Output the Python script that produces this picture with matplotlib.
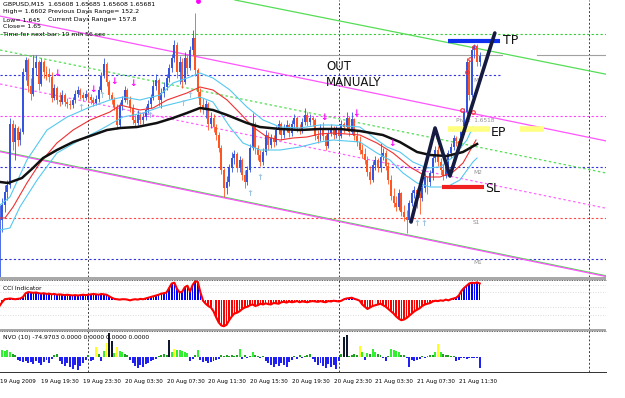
import numpy as np
import matplotlib
matplotlib.use("Agg")
import matplotlib.pyplot as plt
from matplotlib.transforms import blended_transform_factory
from matplotlib.patches import Rectangle

# ---------------- DATA (GBPUSD M15, price levels in chart units) ----------------
first_open = 18
close = [60, 75, 88, 95, 156, 138, 152, 140, 148, 208,
         220, 194, 186, 212, 218, 196, 218, 208, 206, 203,
         182, 192, 180, 178, 185, 178, 176, 175, 180, 186,
         190, 185, 182, 186, 183, 180, 177, 181, 190, 204,
         216, 198, 185, 180, 173, 155, 174, 180, 190, 180,
         172, 160, 157, 165, 160, 163, 170, 176, 182, 194,
         200, 180, 187, 193, 202, 212, 222, 235, 208, 218,
         198, 222, 212, 230, 242, 210, 188, 175, 172, 176,
         156, 162, 153, 145, 132, 110, 92, 98, 112, 122,
         126, 112, 120, 105, 98, 110, 132, 155, 132, 125,
         118, 128, 145, 135, 142, 138, 150, 156, 145, 152,
         155, 147, 156, 162, 152, 150, 158, 165, 158, 162,
         160, 144, 141, 152, 144, 134, 147, 152, 145, 150,
         144, 156, 153, 162, 148, 161, 144, 138, 130, 126,
         120, 108, 100, 115, 120, 112, 123, 127, 114, 100,
         84, 77, 73, 87, 68, 63, 60, 77, 87, 90,
         86, 82, 92, 103, 98, 107, 122, 130, 118, 110,
         104, 112, 127, 133, 142, 139, 134, 150, 168, 218,
         185, 230, 234, 218, 224]
high = [75, 82, 95, 100, 162, 160, 156, 154, 152, 212,
        223, 222, 202, 225, 225, 220, 222, 220, 214, 212,
        208, 196, 194, 188, 190, 187, 182, 180, 183, 190,
        194, 192, 188, 190, 188, 186, 183, 185, 194, 208,
        222, 218, 200, 188, 183, 176, 178, 184, 194, 192,
        184, 176, 165, 170, 168, 167, 174, 180, 186, 200,
        206, 202, 192, 198, 206, 216, 226, 240, 238, 224,
        222, 228, 226, 234, 250, 267, 212, 192, 182, 180,
        178, 168, 166, 156, 148, 135, 112, 104, 116, 128,
        130, 128, 124, 122, 110, 114, 136, 167, 158, 135,
        130, 132, 150, 148, 146, 145, 154, 160, 158, 156,
        160, 157, 160, 166, 164, 156, 162, 172, 168, 166,
        164, 162, 150, 156, 158, 146, 152, 156, 154, 154,
        152, 160, 158, 168, 164, 168, 162, 150, 144, 136,
        132, 124, 114, 119, 124, 122, 137, 132, 130, 118,
        105, 92, 84, 91, 88, 75, 70, 80, 90, 94,
        92, 88, 95, 107, 104, 110, 125, 134, 134, 122,
        116, 115, 130, 137, 145, 144, 142, 153, 172, 222,
        220, 234, 236, 236, 228]
low = [3, 48, 68, 80, 92, 130, 120, 134, 135, 146,
       200, 188, 180, 184, 205, 190, 194, 202, 200, 198,
       178, 180, 176, 174, 176, 174, 172, 171, 172, 177,
       183, 181, 179, 180, 178, 176, 174, 175, 178, 188,
       202, 194, 181, 176, 170, 151, 152, 170, 178, 176,
       168, 156, 153, 155, 156, 156, 160, 167, 172, 180,
       190, 174, 172, 183, 190, 198, 208, 218, 202, 196,
       192, 196, 206, 210, 225, 204, 182, 168, 166, 162,
       150, 152, 148, 140, 128, 106, 83, 86, 94, 108,
       116, 108, 108, 100, 92, 95, 108, 130, 126, 120,
       114, 115, 125, 130, 132, 133, 135, 146, 140, 142,
       148, 143, 144, 152, 148, 146, 147, 155, 154, 155,
       154, 140, 137, 139, 140, 130, 132, 144, 141, 142,
       140, 142, 147, 150, 144, 146, 140, 134, 126, 122,
       116, 104, 96, 98, 110, 108, 108, 120, 110, 96,
       80, 73, 69, 70, 64, 59, 47, 58, 74, 82,
       72, 66, 79, 88, 86, 94, 100, 118, 114, 106,
       100, 102, 110, 122, 130, 134, 130, 133, 146, 166,
       180, 183, 222, 214, 214]

# moving averages read at sample bars: (bar index, level)
ma_black = [(0.2, 98), (3.3, 97), (8.6, 102), (12.8, 112), (16.7, 122), (22, 130),
            (28.2, 138), (35.8, 145), (41.2, 150), (46.2, 152), (52.7, 153), (60.3, 157),
            (66.5, 162), (71.8, 167), (76.8, 172), (81.8, 170), (87.2, 165), (94.8, 157),
            (99.8, 153), (107.5, 151), (115.1, 150), (122.8, 151), (130.4, 151), (138.1, 149),
            (146.9, 145), (153.4, 138), (160, 128), (165, 125), (171.4, 124), (177.6, 128),
            (183, 136)]
ma_red = [(0.2, 62), (2.1, 62), (5.2, 73), (10.5, 97), (15.5, 117), (22, 137), (28.2, 150),
          (34.7, 160), (42.3, 168), (46.2, 175), (53.8, 170), (58.8, 172), (64.2, 180),
          (71.8, 187), (76.8, 193), (81.8, 190), (87.2, 180), (92.1, 167), (97.1, 153),
          (102.5, 143), (107.5, 140), (112.5, 142), (117.8, 143), (122.8, 146), (127.8, 147),
          (138.1, 145), (144.6, 137), (150.8, 127), (157.3, 113), (163.8, 103), (168.8, 103),
          (173.8, 108), (177.6, 117), (182.6, 140)]
band_upper = [(0.2, 75), (4, 83), (10.5, 120), (18.2, 150), (25.9, 163), (34.7, 173),
              (42.3, 180), (47.3, 183), (53.8, 180), (61.5, 185), (66.5, 197), (73, 203),
              (76.8, 207), (81.8, 202), (88.3, 190), (94.8, 173), (101, 160), (107.5, 153),
              (115.1, 152), (122.8, 155), (127.8, 155), (138.1, 153), (143.1, 143), (148.5, 133),
              (153.4, 128), (158.4, 118), (163.8, 112), (168.8, 113), (173.8, 123), (179.1, 140),
              (181.4, 153)]
band_lower = [(0.2, 50), (4, 52), (7.8, 73), (14.4, 100), (22, 127), (30.8, 140), (38.5, 150),
              (47.3, 163), (55, 167), (61.5, 173), (69.2, 178), (76.8, 183), (81.8, 178),
              (88.3, 153), (93.3, 137), (99.8, 130), (107.5, 130), (115.1, 133), (122.8, 138),
              (127.8, 140), (138.1, 138), (144.6, 127), (149.6, 120), (154.6, 107), (160, 97),
              (165, 93), (171.4, 93), (176.4, 100), (181.4, 118), (183, 122)]

# horizontal levels (level, colour, style, x-range in bars)
h_levels = [(246, "#33CC33", (0, (2, 2)), 0, 232.4),
            (225, "#A0A0A0", "-", 0, 192.5),
            (225, "#A0A0A0", "-", 205.9, 232.4),
            (205, "#3333DD", (0, (2, 2)), 0, 192.5),
            (164, "#FF44FF", (0, (2, 2)), 0, 232.4),
            (113, "#3333DD", (0, (2, 2)), 0, 232.4),
            (62, "#FF4444", (0, (2, 2)), 0, 232.4),
            (21, "#3333DD", (0, (2, 2)), 0, 232.4)]
# channel lines: ((bar0, level0), (bar1, level1), colour, style)
channels = [((90.2, 280), (232.4, 205.8), "#55DD55", "-"),
            ((0.2, 263.9), (232.4, 139.1), "#FF55FF", "-"),
            ((0.2, 230), (232.4, 107), "#55DD55", (0, (2, 2))),
            ((0.2, 196), (232.4, 71.8), "#FF66FF", (0, (2, 2))),
            ((0.2, 129), (232.4, 4.2), "#44DD44", "-"),
            ((0.2, 128.3), (232.4, 3.5), "#FF55FF", "-")]

tp_level, tp_span = 239, (171.8, 191.8)
ep_level, ep_spans = 151, [(171.8, 187.9), (199.4, 208.6)]
sl_level, sl_span = 93, (169.5, 185.6)
zigzag = [(157.7, 58), (166.9, 152), (172.6, 104), (189.8, 247)]

down_arrows = [(22, 207), (35.8, 190), (43.9, 198), (51.1, 197), (124.3, 163), (136.6, 167), (150.4, 137)]
up_arrows = [(31.2, 173), (39.3, 185), (57.7, 165), (70.3, 177), (73, 184), (96, 87), (99.8, 102),
             (160, 56), (162.6, 56)]
red_dots = [(180.3, 221), (179.1, 208), (177.2, 170), (181.4, 168), (178.3, 151), (181.8, 233)]

level_labels = [(175, 160, "Pivot  1.6518"), (181.4, 200, "M4"), (181.4, 108, "M2"),
                (181.4, 57, "S1"), (181.4, 17, "M1")]

cci = [-80, -30, 10, 15, 20, 15, 10, 15, 20, 40,
       90, 105, 100, 95, 100, 90, 85, 90, 80, 85,
       75, 80, 70, 75, 70, 65, 70, 65, 60, 65,
       60, 65, 70, 65, 70, 75, 80, 75, 70, 80,
       75, 70, 50, 30, 15, 10, 5, 10, 10, 5,
       -5, 5, 10, 5, 15, 10, 20, 30, 40, 50,
       60, 70, 85, 90, 100, 160, 220, 230, 150, 100,
       110, 170, 190, 110, 200, 250, 240, 100, -10, -50,
       -80, -100, -150, -230, -300, -340, -350, -330, -270, -220,
       -180, -170, -150, -120, -100, -90, -70, -60, -80, -70,
       -50, -60, -45, -55, -60, -40, -45, -50, -30, -25,
       -35, -20, -30, -25, -15, -30, -20, -25, -30, -20,
       -15, -20, -25, -15, -25, -30, -15, -20, -10, -15,
       -20, -10, 10, 20, 25, 30, 15, 5, -10, -60,
       -90, -120, -100, -80, -70, -60, -50, -70, -90, -120,
       -150, -180, -220, -250, -270, -260, -240, -210, -180, -150,
       -130, -110, -80, -60, -50, -40, -20, -10, -15, -5,
       -10, 5, -5, 10, 20, 30, 60, 120, 160, 190,
       220, 230, 225, 235, 220]
cci_yellow = [82, 144]
cci_levels = [200, 100, -100, -200]

nvo = [5, 7, 6, 7, 5, 3, 2, -3, -4, -5,
       -4, -6, -5, -7, -4, -6, -8, -5, -3, -6,
       -2, 2, 3, -4, -7, -9, -6, -10, -12, -8,
       -13, -9, -6, -3, 2, -4, -3, 10, 3, -4,
       6, 14, 24, 16, 4, 10, 6, 5, 3, 2,
       -3, -6, -9, -11, -8, -10, -7, -6, -4, -3,
       -2, 1, 2, 3, 2, 17, 5, 8, 7, 7,
       6, 5, 4, -4, -2, 2, 7, -3, -5, -4,
       -6, -5, -4, -3, -2, 2, 1, 2, 1, 2,
       1, 2, 8, -2, 2, -1, 1, 5, 2, 1,
       -1, 1, -4, -6, -8, -10, -7, -9, -6, -8,
       -10, -5, -3, 1, -2, 2, -1, 1, 2, 3,
       -2, -5, -8, -6, -9, -11, -7, -10, -8, -12,
       -4, 3, 20, 22, 1, 2, 3, 2, 11, 5,
       -3, 4, 3, 8, 5, 3, 2, -1, -4, 1,
       8, 7, 6, 5, 2, 2, -1, -10, -3, -4,
       -3, -2, 1, -1, 1, 2, 2, 5, 13, 5,
       3, 2, 2, 1, 1, -4, -3, -1, -1, -2,
       -1, -1, -1, -1, -11]
nvo_yellow = [37, 41, 45, 67, 138, 168]
nvo_black = [42, 43, 65, 132, 133]

day_breaks = [34, 130, 226]
tick_bars = [0, 16, 32, 48, 64, 80, 96, 112, 128, 144, 160, 176]
tick_labels = ["19 Aug 2009", "19 Aug 19:30", "19 Aug 23:30", "20 Aug 03:30", "20 Aug 07:30",
               "20 Aug 11:30", "20 Aug 15:30", "20 Aug 19:30", "20 Aug 23:30", "21 Aug 03:30",
               "21 Aug 07:30", "21 Aug 11:30"]

header = ["GBPUSD,M15  1.65608 1.65685 1.65608 1.65681",
          "High= 1.6602", "Previous Days Range= 152.2",
          "Low= 1.645", "Current Days Range= 157.8",
          "Close= 1.65", "Time for next bar: 10 min 56 sec"]

# ---------------- FIGURE ----------------
W, H = 625, 398
fig = plt.figure(figsize=(W / 100, H / 100), dpi=100)
fig.patch.set_facecolor("white")


def px_axes(x0, y0, x1, y1):
    ax = fig.add_axes([x0 / W, 1 - y1 / H, (x1 - x0) / W, (y1 - y0) / H])
    for s in ax.spines.values():
        s.set_visible(False)
    ax.set_xticks([])
    ax.set_yticks([])
    ax.set_facecolor("white")
    return ax


XL = (0.19, 232.4)
ax = px_axes(0, 0, 606, 276.5)
ax.set_xlim(*XL)
ax.set_ylim(3.5, 280)
ax_c = px_axes(0, 279.5, 606, 328.5)
ax_c.set_xlim(*XL)
ax_c.set_ylim(-380, 273)
ax_n = px_axes(0, 331, 606, 371.5)
ax_n.set_xlim(*XL)
ax_n.set_ylim(-14.5, 26)

for a in (ax, ax_c, ax_n):
    for d in day_breaks:
        a.axvline(d, color="#404040", lw=0.7, ls=(0, (2, 2)), zorder=1)

# horizontal levels and channels
for lev, col, st, xa, xb in h_levels:
    ax.plot([xa, xb], [lev, lev], color=col, lw=0.8, ls=st, zorder=2)
for (xa, ya), (xb, yb), col, st in channels:
    ax.plot([xa, xb], [ya, yb], color=col, lw=0.9, ls=st, zorder=2)

# moving averages
for pts, col, lw in [(band_upper, "#55C8F0", 0.8), (band_lower, "#55C8F0", 0.8),
                     (ma_red, "#F03030", 0.8), (ma_black, "#101010", 1.8)]:
    xs, ys = zip(*pts)
    ax.plot(xs, ys, color=col, lw=lw, zorder=4)

# candles
c = np.array(close, float)
o = np.concatenate([[first_open], c[:-1]])
hi = np.array(high, float)
lo = np.array(low, float)
idx = np.arange(len(c))
up = c >= o
cols = np.where(up, "#3355E0", "#FF5520")
ax.vlines(idx, lo, hi, colors=cols, lw=0.6, zorder=3)
body_b = np.minimum(o, c)
body_h = np.maximum(np.abs(c - o), 0.8)
ax.bar(idx, body_h, bottom=body_b, width=0.75, color=cols, lw=0, zorder=3)

# markers
for xb, yb in down_arrows:
    ax.text(xb, yb, "\u2193", color="#FF00FF", fontsize=6.5, fontweight="bold",
            ha="center", va="center", zorder=6)
ax.plot([76], [279], marker="o", ms=2.5, color="#FF00FF", zorder=6, clip_on=False)
for xb, yb in up_arrows:
    ax.text(xb, yb, "\u2191", color="#9EC4E0", fontsize=6, fontweight="bold",
            ha="center", va="center", zorder=6)
rx, ry = zip(*red_dots)
ax.plot(rx, ry, ls="none", marker="o", ms=2.6, mfc="none", mec="#FF3030", mew=0.8, zorder=6)

for xb, yb, t in level_labels:
    ax.text(xb, yb, t, color="#909090", fontsize=4.2, ha="left", va="center", zorder=5)

# trade annotations
ax.plot(tp_span, [tp_level, tp_level], color="#1030F0", lw=3, solid_capstyle="butt", zorder=7)
for sp in ep_spans:
    ax.plot(sp, [ep_level, ep_level], color="#FFFF80", lw=4, solid_capstyle="butt", zorder=7)
ax.plot(sl_span, [sl_level, sl_level], color="#F02020", lw=3, solid_capstyle="butt", zorder=7)
zx, zy = zip(*zigzag)
ax.plot(zx, zy, color="#141A40", lw=2.6, solid_capstyle="round", zorder=8)
ax.text(193, tp_level, "TP", fontsize=9, ha="left", va="center", color="#111111", zorder=9)
ax.text(188.3, 148, "EP", fontsize=9, ha="left", va="center", color="#111111", zorder=9)
ax.text(186, 91, "SL", fontsize=9, ha="left", va="center", color="#111111", zorder=9)
ax.text(125.1, 213, "OUT", fontsize=8.5, ha="left", va="center", color="#111111", zorder=9)
ax.text(125.1, 198, "MANUALY", fontsize=8.5, ha="left", va="center", color="#111111", zorder=9)

# header text
fs = 4.5
fig.text(3 / W, 1 - 4 / H, header[0], fontsize=fs, va="center")
fig.text(3 / W, 1 - 12 / H, header[1], fontsize=fs, va="center")
fig.text(48 / W, 1 - 12 / H, header[2], fontsize=fs, va="center")
fig.text(3 / W, 1 - 20 / H, header[3], fontsize=fs, va="center")
fig.text(48 / W, 1 - 20 / H, header[4], fontsize=fs, va="center")
fig.text(3 / W, 1 - 27 / H, header[5], fontsize=fs, va="center")
fig.text(3 / W, 1 - 34 / H, header[6], fontsize=fs, va="center")

# CCI panel
cv = np.array(cci, float)
ci = np.arange(len(cv))
ccol = np.where(cv >= 0, "#0000FF", "#FF0000").astype(object)
for k in cci_yellow:
    ccol[k] = "#FFFF00"
for lv in cci_levels:
    ax_c.axhline(lv, color="#D0D0D0", lw=0.6, ls=(0, (1, 2)), zorder=1)
ax_c.bar(ci, cv, width=0.6, color=list(ccol), lw=0, zorder=2)
ax_c.plot(ci, cv, color="#FF0000", lw=1.5, zorder=3)
ax_c.text(0.005, 0.82, "CCI Indicator", transform=ax_c.transAxes, fontsize=4.3,
          va="center", ha="left")

# NVO panel
nv = np.array(nvo, float)
ni = np.arange(len(nv))
ncol = []
for k, v in enumerate(nv):
    if k in nvo_black:
        ncol.append("#101830")
    elif k in nvo_yellow:
        ncol.append("#FFFF20")
    elif v < 0:
        ncol.append("#2020F0")
    elif v >= 4:
        ncol.append("#30F030")
    else:
        ncol.append("#20A020")
ax_n.bar(ni, nv, width=0.75, color=ncol, lw=0, zorder=2)
ax_n.text(0.005, 0.83, "NVO (10) -74.9703 0.0000 0.0000 0.0000 0.0000",
          transform=ax_n.transAxes, fontsize=4.3, va="center", ha="left")

# panel separators
for y0, y1 in [(276.5, 279.5), (328.5, 331)]:
    fig.add_artist(Rectangle((0, 1 - y1 / H), 606 / W, (y1 - y0) / H,
                             transform=fig.transFigure, color="#A8A8A8", lw=0))
    fig.add_artist(plt.Line2D([0, 606 / W], [1 - y1 / H, 1 - y1 / H], transform=fig.transFigure,
                              color="#303030", lw=0.6, ls=(0, (1, 1))))
fig.add_artist(plt.Line2D([0, 606 / W], [1 - 371.8 / H, 1 - 371.8 / H], transform=fig.transFigure,
                          color="#303030", lw=0.7))

# time labels
tr = blended_transform_factory(ax_n.transData, fig.transFigure)
for b, t in zip(tick_bars, tick_labels):
    ax_n.text(b, 1 - 381 / H, t, transform=tr, fontsize=4.1, ha="left", va="center",
              clip_on=False)

fig.savefig("out.png", dpi=100)
